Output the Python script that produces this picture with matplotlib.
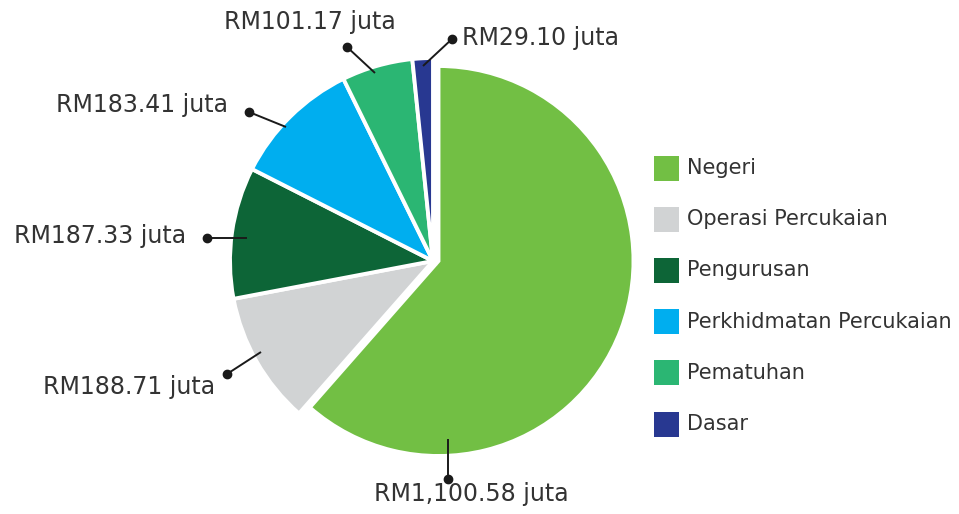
import matplotlib

matplotlib.use("Agg")
import matplotlib.pyplot as plt
from matplotlib.patches import Rectangle

categories = [
    "Negeri",
    "Operasi Percukaian",
    "Pengurusan",
    "Perkhidmatan Percukaian",
    "Pematuhan",
    "Dasar",
]
values = [1100.58, 188.71, 187.33, 183.41, 101.17, 29.10]
colors = ["#72BF44", "#D1D3D4", "#0D6537", "#00AEEF", "#2BB673", "#283891"]

W, H = 959, 514
TEXT = "#333333"
FONT = ["DejaVu Sans"]


def px(x, y):
    # canvas pixels (origin top-left) -> axes data
    return x, H - y


fig = plt.figure(figsize=(W / 100, H / 100), dpi=100)
ax = fig.add_axes([0, 0, 1, 1])

wedges, _ = ax.pie(
    values,
    colors=colors,
    startangle=90,
    counterclock=False,
    center=px(433, 261),
    radius=203,
    wedgeprops=dict(edgecolor="white", linewidth=2.8),
)
# the largest slice sits a little out from the rest
wedges[0].set_center(px(438.5, 261))
wedges[0].set_radius(195)

# pie() sets its own limits, so fix the canvas afterwards
ax.set_xlim(0, W)
ax.set_ylim(0, H)
ax.set_aspect("equal")
ax.axis("off")

# label text anchor, dot, and line end inside the slice
callouts = [
    dict(text=(471, 494), ha="center", dot=(448, 479), tip=(448, 439)),
    dict(text=(215, 387), ha="right", dot=(227, 374), tip=(261, 352)),
    dict(text=(186, 236), ha="right", dot=(207, 238), tip=(247, 238)),
    dict(text=(228, 105), ha="right", dot=(249, 112), tip=(286, 127)),
    dict(text=(310, 22), ha="center", dot=(347, 47), tip=(375, 73)),
    dict(text=(462, 38), ha="left", dot=(452, 39), tip=(423, 66)),
]
for v, c in zip(values, callouts):
    (dx, dy), (tx, ty) = px(*c["dot"]), px(*c["tip"])
    ax.plot([dx, tx], [dy, ty], color="#1a1a1a", lw=1.4, solid_capstyle="butt")
    ax.plot(dx, dy, "o", color="#1a1a1a", ms=6)
    lx, ly = px(*c["text"])
    ax.text(lx, ly, f"RM{v:,.2f} juta", ha=c["ha"], va="center",
            fontsize=17, color=TEXT, family=FONT)

# legend
for i, (name, col) in enumerate(zip(categories, colors)):
    cy = 168 + i * 51.2
    x0, y0 = px(654, cy + 12.5)
    ax.add_patch(Rectangle((x0, y0), 25, 25, facecolor=col, edgecolor="none"))
    tx, ty = px(687, cy)
    ax.text(tx, ty, name, ha="left", va="center", fontsize=15,
            color=TEXT, family=FONT)

fig.savefig("out.png", dpi=100)
